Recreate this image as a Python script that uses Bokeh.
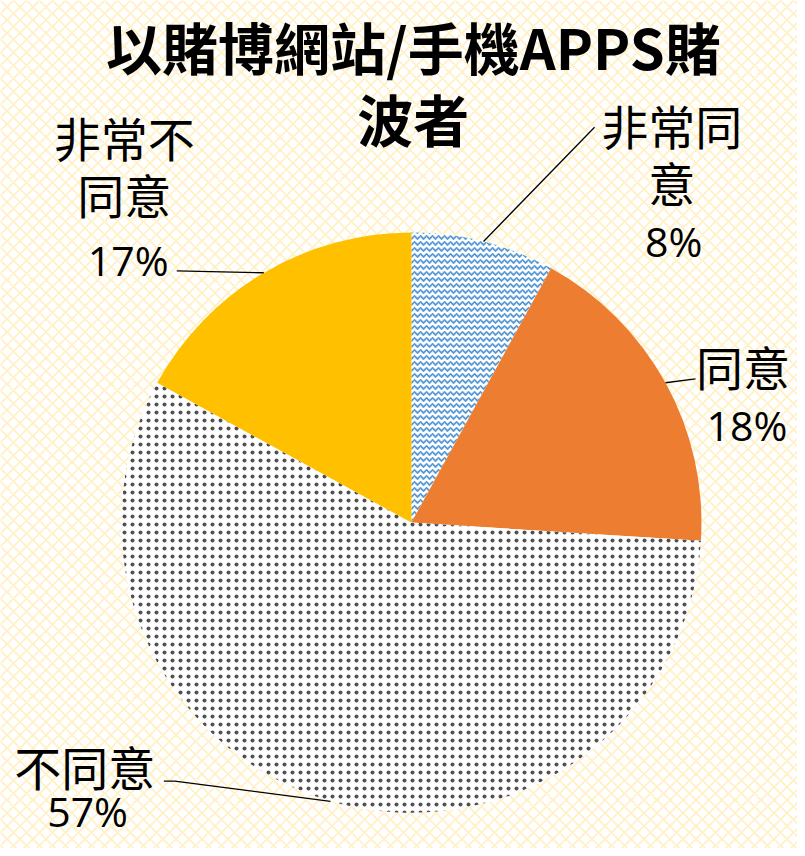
import math
from bokeh.plotting import figure
from bokeh.models import Range1d
from bokeh.core.properties import value
from bokeh.embed import file_html
from bokeh.resources import INLINE

# ---- data ----
categories = ["非常同意", "同意", "不同意", "非常不同意"]
values = [8, 18, 57, 17]
label_lines = [["非常同", "意"], ["同意"], ["不同意"], ["非常不", "同意"]]
title_lines = ["以賭博網站/手機APPS賭", "波者"]

# ---- layout / style ----
W, H = 797, 848          # figure size in screen pixels
RW, RH = 805, 856        # reference canvas (data units)
def Y(py):  # reference pixel y -> data y
    return RH - py

cx, cy, R = 415, Y(527), 293
styles = [
    dict(fill_color="white", hatch_pattern="horizontal_wave", hatch_color="#5B9BD5", hatch_scale=6, hatch_weight=1.8),
    dict(fill_color="#ED7D31"),
    dict(fill_color="white", hatch_pattern="dot", hatch_color="#505050", hatch_scale=8, hatch_weight=1.8),
    dict(fill_color="#FFC000"),
]
label_pos = [(678, 125), (750, 368), (85, 772), (125, 137)]
pct_pos = [(680, 243), (754, 428), (88, 818), (129, 262)]
leader_end = [[(600, 128)], [(702, 382)], [(176, 788), (165, 788)], [(178, 273)]]
line_gap = 58

p = figure(width=W, height=H, output_backend="svg", toolbar_location=None,
           x_range=Range1d(0, RW), y_range=Range1d(0, RH),
           min_border=0, outline_line_color=None, background_fill_color="white")
p.axis.visible = False
p.grid.visible = False

# background crosshatch
p.quad(left=[-10], right=[RW + 10], bottom=[-10], top=[RH + 10],
       fill_color="white", line_color=None, hatch_pattern="diagonal_cross",
       hatch_color="#FFF0C6", hatch_scale=13, hatch_weight=1.8)

total = sum(values)
cum = 0
for i, v in enumerate(values):
    a0 = math.pi / 2 - 2 * math.pi * cum / total
    a1 = math.pi / 2 - 2 * math.pi * (cum + v) / total
    amid = (a0 + a1) / 2
    cum += v
    p.wedge(x=[cx], y=[cy], radius=R, start_angle=[a0], end_angle=[a1],
            direction="clock", line_color=None, **styles[i])
    ex, ey = cx + R * math.cos(amid), cy + R * math.sin(amid)
    xs = [ex] + [pt[0] for pt in leader_end[i]]
    ys = [ey] + [Y(pt[1]) for pt in leader_end[i]]
    p.line(xs, ys, line_color="#000000", line_width=1.3)

cjk = value("Noto Sans CJK TC")
for i, lines in enumerate(label_lines):
    lx, ly = label_pos[i]
    for j, t in enumerate(lines):
        p.text(x=[lx], y=[Y(ly + j * line_gap)], text=[t], text_font=cjk,
               text_font_size="47px", text_align="center", text_baseline="middle",
               text_color="#000000")
    px, py = pct_pos[i]
    p.text(x=[px], y=[Y(py)], text=[f"{values[i]}%"], text_font=value("Open Sans"),
           text_font_size="41px", text_align="center", text_baseline="middle",
           text_color="#000000")

for j, t in enumerate(title_lines):
    p.text(x=[417], y=[Y(45 + j * 73)], text=[t], text_font=cjk,
           text_font_size="56px", text_font_style="bold", text_align="center",
           text_baseline="middle", text_color="#000000")

open("out.html", "w").write(file_html(p, INLINE))
